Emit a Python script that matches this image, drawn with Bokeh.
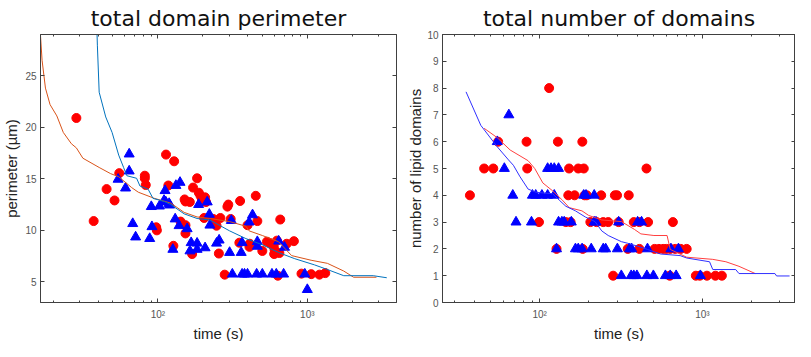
from bokeh.plotting import figure
from bokeh.layouts import row
from bokeh.models import FixedTicker, LogAxis, LinearAxis, Range1d, Title
from bokeh.embed import file_html
from bokeh.resources import INLINE

# ---------------- data: total domain perimeter ----------------
per_red_t = [28.5, 37.2, 45.4, 51.3, 55.2, 81.8, 81.8, 83, 97.5, 98.5, 113.4, 117.5, 128.5, 127,
             151, 153, 163.6, 142, 153, 153, 169.5, 172, 183, 188, 193, 197, 207, 210, 204, 235,
             240, 247, 262, 256, 292, 296, 280, 307, 351, 355, 398, 410, 412, 452, 463, 500, 537,
             565, 596, 605, 600, 635, 650, 659, 626, 728, 813, 914, 1062, 1205, 1318]
per_red_v = [20.9, 10.9, 14.0, 12.9, 15.55, 15.3, 15.05, 14.4, 10.3, 10.0, 17.35, 14.35, 16.7, 8.5,
             13.0, 12.8, 12.75, 10.85, 10.5, 9.7, 7.7, 14.15, 15.05, 13.65, 13.35, 13.05, 13.2, 12.75, 11.2, 11.1,
             10.8, 10.45, 11.2, 7.75, 12.3, 12.5, 5.7, 11.1, 8.8, 12.85, 10.5, 8.4, 8.7, 13.35, 10.9, 8.0, 8.9,
             8.75, 8.4, 8.05, 7.7, 5.6, 7.8, 11.05, 9.0, 8.7, 8.95, 5.8, 5.75, 5.7, 5.85]

per_blue_t = [54.2, 64.3, 64.3, 60.8, 67.9, 71, 88.2, 90.4, 91.3, 102.5, 111.7, 110, 113, 119, 120,
              126, 130.6, 132, 140.7, 138.7, 157, 167, 164, 183, 183, 187.4, 207, 214, 221, 223, 247,
              257, 302, 310, 315, 361, 366, 380, 398, 366, 408, 430, 463, 463, 458, 500, 580, 620,
              643, 704, 694, 962, 1000]
per_blue_v = [14.95, 17.4, 15.75, 14.1, 10.65, 9.35, 9.2, 12.3, 10.35, 12.35, 13.85, 12.9, 12.75, 12.6, 12.45,
              8.15, 11.1, 14.35, 14.65, 10.45, 10.15, 8.8, 8.0, 8.15, 8.75, 12.5, 8.3, 12.75, 11.55, 10.5, 8.75,
              9.05, 7.85, 10.95, 5.75, 7.85, 5.75, 5.75, 5.75, 8.8, 10.8, 11.5, 8.9, 8.45, 5.75, 5.75, 5.75, 5.75,
              8.95, 8.35, 5.75, 5.75, 4.25]

per_orange_line_t = [16.3, 16.8, 17.7, 19.0, 21.1, 23.3, 26.4, 28.5, 31.5, 40.5, 48.3, 54.7, 66.8, 74,
                     95, 122, 150, 183, 223, 302, 388, 408, 500, 641, 785, 1060, 1362, 1753, 2040, 2900]
per_orange_line_v = [29.5, 26.5, 23.8, 22.2, 21.1, 19.5, 18.4, 18.0, 17.0, 16.1, 15.5, 15.2, 14.15, 13.7,
                     13.1, 12.64, 11.74, 11.3, 11.15, 10.85, 10.4, 9.95, 9.5, 8.9, 7.55, 7.1, 6.8, 6.05, 5.45, 5.45]

per_blue_line_t = [39.1, 39.4, 40.5, 44.8, 49.4, 54.7, 59, 62, 72.1, 75.9, 86, 92.8, 110.6, 122, 150,
                   183, 223, 302, 388, 500, 641, 824, 1117, 1362, 1753, 2760, 3400]
per_blue_line_v = [29.5, 27.9, 23.4, 21.0, 19.5, 17.3, 16.1, 15.3, 15.05, 14.3, 14.0, 13.1, 12.8, 12.5, 11.6,
                   11.15, 11.0, 9.95, 9.2, 8.6, 7.85, 7.25, 6.65, 6.2, 5.6, 5.6, 5.4]

# ---------------- data: total number of domains ----------------
num_red_t = [45.6, 51.9, 83.9, 151.7, 172.7, 186.8, 453.6,
             55.6, 83.1, 129.5, 183,
             114.4,
             37.3, 150, 164, 189, 195, 239, 290, 299, 353,
             99.1, 145, 155, 205, 224, 246, 264, 306, 379, 410, 464, 659,
             127, 184, 348, 410, 509, 541, 574, 601, 635, 681, 737, 801,
             283, 630, 912, 964, 1067, 1203, 1318]
num_red_v = [5, 5, 5, 5, 5, 5, 5,
             6, 6, 6, 6,
             8,
             4, 4, 4, 4, 4, 4, 4, 4, 4,
             3, 3, 3, 3, 3, 3, 3, 3, 3, 3, 3, 3,
             2, 2, 2, 2, 2, 2, 2, 2, 2, 2, 2, 2,
             1, 1, 1, 1, 1, 1, 1]

num_blue_t = [64.7,
              54.9,
              60.7, 112, 117.5, 123, 130.7,
              68.4, 90.3, 94.6, 103.3, 112, 123, 186.6, 192.8, 216.5,
              71.6, 89.1, 130.7, 137, 141.6, 156.6, 216.5, 222, 306, 400, 423,
              127, 166, 172.7, 182.4, 207.6, 246, 254.6, 300.5, 356.7, 368, 460, 641, 713,
              317.7, 365, 379, 396, 456, 500, 593, 635, 690, 973]
num_blue_v = [7,
              6,
              5, 5, 5, 5, 5,
              4, 4, 4, 4, 4, 4, 4, 4, 4,
              3, 3, 3, 3, 3, 3, 3, 3, 3, 3, 3,
              2, 2, 2, 2, 2, 2, 2, 2, 2, 2, 2, 2, 2,
              1, 1, 1, 1, 1, 1, 1, 1, 1, 1]

num_blue_line_t = [35.3, 43.5, 54.9, 64.4, 69, 75.8, 85, 95.5, 120, 132, 145, 166, 191, 219, 241, 264,
                   318, 348, 400, 460, 553, 730, 801, 1107, 1159, 1603, 1679, 2793, 2858, 3436]
num_blue_line_v = [7.86, 6.61, 5.81, 5.32, 5.12, 4.69, 4.23, 4.11, 4.06, 3.82, 3.59, 3.42, 3.19, 3.02, 2.67, 2.50,
                   2.27, 2.21, 2.10, 1.98, 1.81, 1.75, 1.66, 1.52, 1.23, 1.23, 1.08, 1.08, 0.99, 0.99]

num_red_line_t = [45.6, 54.9, 65.9, 85, 93.3, 104.7, 120, 138, 152, 182, 200, 241, 318, 382, 419, 504,
                  607, 635, 801, 1159, 1395, 1679, 2114]
num_red_line_v = [6.50, 6.15, 5.69, 5.29, 5.0, 4.46, 4.17, 3.82, 3.54, 3.42, 3.25, 3.08, 3.02, 2.73, 2.56, 2.50,
                  2.50, 1.98, 1.69, 1.61, 1.52, 1.35, 1.08]

x_major = [100, 1000]
x_minor = [20, 30, 40, 50, 60, 70, 80, 90, 200, 300, 400, 500, 600, 700, 800, 900, 2000, 3000]
x_labels = {100: "10²", 1000: "10³"}
x_title = "time (s)"

AX = "#404040"
TICKLBL = "#555555"


def style_axis(ax, ticker, labels=True, overrides=None, lab_standoff=4, axlab_standoff=2):
    ax.ticker = ticker
    ax.axis_line_color = AX
    ax.major_tick_line_color = AX
    ax.minor_tick_line_color = AX
    ax.major_tick_in = 4
    ax.major_tick_out = 0
    ax.minor_tick_in = 2
    ax.minor_tick_out = 0
    if labels:
        ax.major_label_text_font = "Liberation Sans"
        ax.major_label_text_font_size = "10px"
        ax.major_label_text_color = TICKLBL
        ax.major_label_standoff = lab_standoff
        ax.axis_label_text_font = "Liberation Sans"
        ax.axis_label_text_font_size = "15px"
        ax.axis_label_text_font_style = "normal"
        ax.axis_label_text_color = "#222222"
        ax.axis_label_standoff = axlab_standoff
        if overrides:
            ax.major_label_overrides = overrides
    else:
        ax.major_label_text_font_size = "1px"
        ax.major_label_text_alpha = 0
        ax.major_label_standoff = 0


def make_fig(title, width, xr, yr, bl, br):
    p = figure(width=width, height=341, x_axis_type="log",
               x_range=Range1d(*xr), y_range=Range1d(*yr),
               output_backend="svg", toolbar_location=None,
               min_border_left=bl, min_border_right=br, min_border_top=0, min_border_bottom=0)
    p.title.text = title
    p.title.align = "center"
    p.title.text_font = "DejaVu Sans"
    p.title.text_font_size = "22px"
    p.title.text_font_style = "normal"
    p.title.text_color = "#111111"
    p.title.standoff = 7
    p.xgrid.visible = False
    p.ygrid.visible = False
    p.outline_line_color = AX
    p.background_fill_color = "white"
    p.border_fill_color = "white"
    return p


def add_xtitle(p):
    t = Title(text=x_title, align="center", text_font="Liberation Sans", text_font_size="15px",
              text_font_style="normal", text_color="#222222", standoff=0)
    p.add_layout(t, "below")


# ---------------- left figure ----------------
p1 = make_fig("total domain perimeter", 400, (16.4, 3950), (3, 29), 32, 4)
style_axis(p1.xaxis[0], FixedTicker(ticks=x_major, minor_ticks=x_minor), overrides=x_labels, lab_standoff=6)
style_axis(p1.yaxis[0], FixedTicker(ticks=[5, 10, 15, 20, 25]))
p1.yaxis[0].axis_label = "perimeter (µm)"
top1 = LogAxis()
style_axis(top1, FixedTicker(ticks=x_major, minor_ticks=x_minor), labels=False)
p1.add_layout(top1, "above")
right1 = LinearAxis()
style_axis(right1, FixedTicker(ticks=[5, 10, 15, 20, 25]), labels=False)
p1.add_layout(right1, "right")
add_xtitle(p1)

p1.scatter(per_red_t, per_red_v, marker="circle", size=9, fill_color="#ff0000", line_color="#ff0000")
p1.scatter(per_blue_t, per_blue_v, marker="triangle", size=10, fill_color="#0000ff", line_color="#0000ff")
p1.line(per_orange_line_t, per_orange_line_v, line_color="#D95319", line_width=1)
p1.line(per_blue_line_t, per_blue_line_v, line_color="#0072BD", line_width=1)

# ---------------- right figure ----------------
p2 = make_fig("total number of domains", 395, (25.3, 3736), (0, 10), 42, 0)
style_axis(p2.xaxis[0], FixedTicker(ticks=x_major, minor_ticks=x_minor), overrides=x_labels, lab_standoff=6)
style_axis(p2.yaxis[0], FixedTicker(ticks=list(range(0, 11))), axlab_standoff=0)
p2.yaxis[0].axis_label = "number of lipid domains"
top2 = LogAxis()
style_axis(top2, FixedTicker(ticks=x_major, minor_ticks=x_minor), labels=False)
p2.add_layout(top2, "above")
right2 = LinearAxis()
style_axis(right2, FixedTicker(ticks=list(range(0, 11))), labels=False)
p2.add_layout(right2, "right")
add_xtitle(p2)

p2.scatter(num_red_t, num_red_v, marker="circle", size=9, fill_color="#ff0000", line_color="#ff0000")
p2.scatter(num_blue_t, num_blue_v, marker="triangle", size=10, fill_color="#0000ff", line_color="#0000ff")
p2.line(num_red_line_t, num_red_line_v, line_color="#ff4040", line_width=1)
p2.line(num_blue_line_t, num_blue_line_v, line_color="#3030ff", line_width=1)

layout = row(p1, p2)
open("out.html", "w").write(file_html(layout, INLINE))
